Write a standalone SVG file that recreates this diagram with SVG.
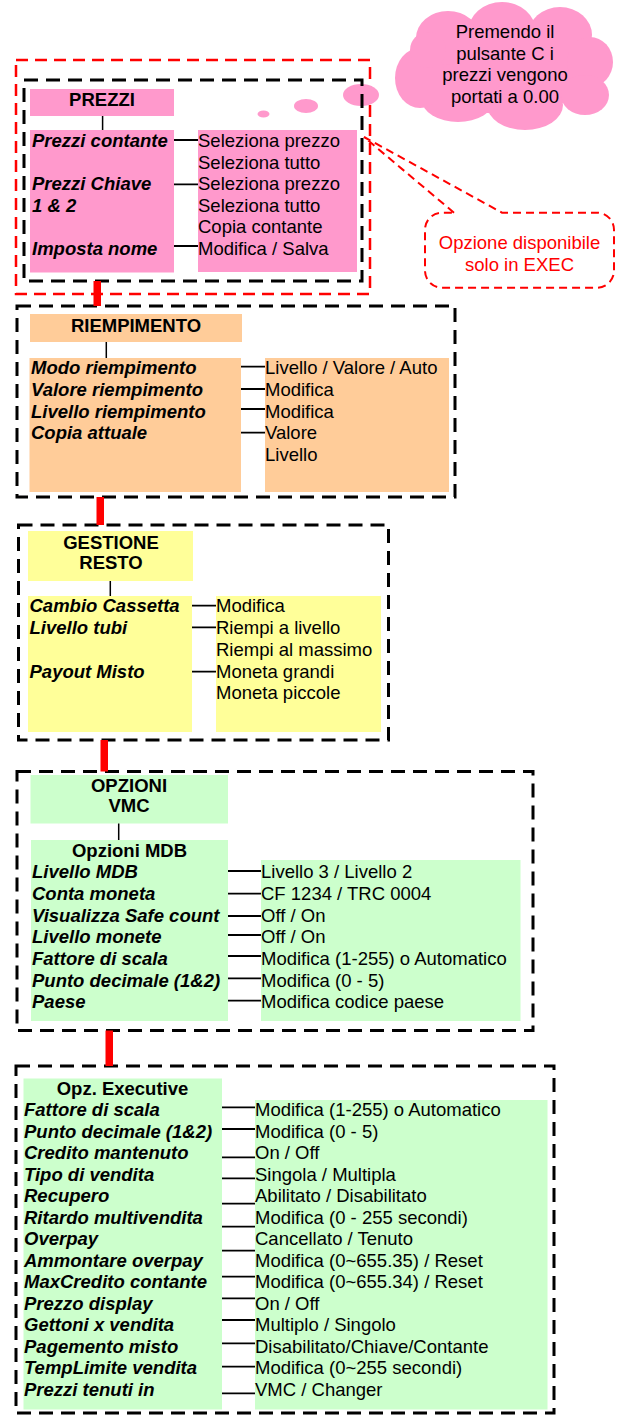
<svg xmlns="http://www.w3.org/2000/svg" width="618" height="1416" viewBox="0 0 618 1416">
<style>
text{font-family:"Liberation Sans",Arial,sans-serif;font-size:18.5px;fill:#000}
.h{font-weight:bold;text-anchor:middle}
.l{font-weight:bold;font-style:italic}
.red{fill:#FF0000;text-anchor:middle}
.c{text-anchor:middle}
.frame{fill:none;stroke:#000;stroke-width:3;stroke-dasharray:14 8}
.pk{fill:#FF99CC}
.or{fill:#FFCC99}
.ye{fill:#FFFF99}
.gr{fill:#CCFFCC}
.ln{stroke:#000;stroke-width:1.8;fill:none}
.vl{stroke:#000;stroke-width:1.5;fill:none}
.bar{fill:#FF0000}
</style>

<g id="exec-frame">
<rect x="16" y="60" width="354" height="234" fill="none" stroke="#FF0000" stroke-width="2.5" stroke-dasharray="12 7"/>
</g>

<g id="cloud">
<g class="pk">
<ellipse cx="505" cy="66" rx="90" ry="48"/>
<ellipse cx="448" cy="38" rx="32" ry="27"/>
<ellipse cx="502" cy="32" rx="34" ry="30"/>
<ellipse cx="560" cy="35" rx="32" ry="28"/>
<ellipse cx="590" cy="62" rx="23" ry="25"/>
<ellipse cx="585" cy="95" rx="24" ry="20"/>
<ellipse cx="525" cy="105" rx="38" ry="25"/>
<ellipse cx="458" cy="100" rx="36" ry="22"/>
<ellipse cx="420" cy="78" rx="25" ry="30"/>
<ellipse cx="428" cy="50" rx="18" ry="18"/>
<ellipse cx="361" cy="95" rx="18" ry="11"/>
<ellipse cx="306" cy="106" rx="12" ry="7"/>
<ellipse cx="263.5" cy="114" rx="6" ry="3.5"/>
</g>
<text class="c" x="505" y="38.3">Premendo il</text>
<text class="c" x="505" y="60">pulsante C i</text>
<text class="c" x="505" y="81.3">prezzi vengono</text>
<text class="c" x="505" y="102.7">portati a 0.00</text>
</g>

<g id="callout">
<path d="M454,212.7 L364,137 L502,212.7 H597 A17,17 0 0 1 614,229.7 V270.7 A17,17 0 0 1 597,287.7 H442 A17,17 0 0 1 425,270.7 V229.7 A17,17 0 0 1 442,212.7 Z" fill="none" stroke="#FF0000" stroke-width="2" stroke-dasharray="8 5"/>
<text class="red" x="519.5" y="249.3">Opzione disponibile</text>
<text class="red" x="519.5" y="270.5">solo in EXEC</text>
</g>

<g id="prezzi">
<rect class="frame" x="24" y="80" width="338" height="201"/>
<rect class="pk" x="30" y="89" width="144" height="27"/>
<text class="h" x="102" y="105.7">PREZZI</text>
<rect class="pk" x="30" y="130" width="144" height="142.5"/>
<rect class="pk" x="198" y="130" width="159" height="142"/>
<text class="l" x="32" y="147">Prezzi contante</text>
<text class="l" x="32" y="190">Prezzi Chiave</text>
<text class="l" x="32" y="211.7">1 &amp; 2</text>
<text class="l" x="32" y="255">Imposta nome</text>
<text x="198" y="147">Seleziona prezzo</text>
<text x="198" y="168.7">Seleziona tutto</text>
<text x="198" y="190.3">Seleziona prezzo</text>
<text x="198" y="211.7">Seleziona tutto</text>
<text x="198" y="233.3">Copia contante</text>
<text x="198" y="254.7">Modifica / Salva</text>
</g>

<g id="riempimento">
<rect class="frame" x="17" y="306" width="438" height="191"/>
<rect class="or" x="30" y="314" width="212" height="28"/>
<text class="h" x="136" y="331.7">RIEMPIMENTO</text>
<rect class="or" x="29.5" y="358" width="211.5" height="134"/>
<rect class="or" x="265" y="358" width="184" height="134"/>
<text class="l" x="31" y="374.3">Modo riempimento</text>
<text class="l" x="31" y="396">Valore riempimento</text>
<text class="l" x="31" y="417.7">Livello riempimento</text>
<text class="l" x="31" y="439.3">Copia attuale</text>
<text x="265" y="374.3">Livello / Valore / Auto</text>
<text x="265" y="396">Modifica</text>
<text x="265" y="417.7">Modifica</text>
<text x="265" y="439.3">Valore</text>
<text x="265" y="461">Livello</text>
</g>

<g id="gestione-resto">
<rect class="frame" x="18.5" y="525" width="370" height="215"/>
<rect class="ye" x="28" y="531" width="165" height="50"/>
<text class="h" x="111" y="549.3">GESTIONE</text>
<text class="h" x="111" y="569.3">RESTO</text>
<rect class="ye" x="28" y="596" width="164" height="136"/>
<rect class="ye" x="216" y="596" width="165" height="136"/>
<text class="l" x="29.5" y="612.3">Cambio Cassetta</text>
<text class="l" x="29.5" y="634">Livello tubi</text>
<text class="l" x="29.5" y="678.3">Payout Misto</text>
<text x="216" y="612.3">Modifica</text>
<text x="216" y="634">Riempi a livello</text>
<text x="216" y="655.7">Riempi al massimo</text>
<text x="216" y="677.7">Moneta grandi</text>
<text x="216" y="699.3">Moneta piccole</text>
</g>

<g id="opzioni-vmc">
<rect class="frame" x="17" y="771.5" width="516" height="259"/>
<rect class="gr" x="30.5" y="775" width="197.5" height="48.5"/>
<text class="h" x="129" y="791.7">OPZIONI</text>
<text class="h" x="129" y="812.3">VMC</text>
<rect class="gr" x="31" y="840" width="197" height="181"/>
<rect class="gr" x="261" y="860" width="259.5" height="161"/>
<text class="h" x="129.5" y="857.3">Opzioni MDB</text>
<text class="l" x="32" y="878.3">Livello MDB</text>
<text class="l" x="32" y="900">Conta moneta</text>
<text class="l" x="32" y="921.7">Visualizza Safe count</text>
<text class="l" x="32" y="943.3">Livello monete</text>
<text class="l" x="32" y="965">Fattore di scala</text>
<text class="l" x="32" y="986.7">Punto decimale (1&amp;2)</text>
<text class="l" x="32" y="1008.3">Paese</text>
<text x="261" y="878.3">Livello 3 / Livello 2</text>
<text x="261" y="900">CF 1234 / TRC 0004</text>
<text x="261" y="921.7">Off / On</text>
<text x="261" y="943.3">Off / On</text>
<text x="261" y="965">Modifica (1-255) o Automatico</text>
<text x="261" y="986.7">Modifica (0 - 5)</text>
<text x="261" y="1008.3">Modifica codice paese</text>
</g>

<g id="opz-executive">
<rect class="frame" x="16" y="1066" width="538" height="347"/>
<rect class="gr" x="23.5" y="1078.5" width="198.5" height="331"/>
<rect class="gr" x="255" y="1100" width="292.5" height="309.5"/>
<text class="h" x="122.5" y="1095">Opz. Executive</text>
<text class="l" x="24" y="1116">Fattore di scala</text>
<text class="l" x="24" y="1137.5">Punto decimale (1&amp;2)</text>
<text class="l" x="24" y="1159">Credito mantenuto</text>
<text class="l" x="24" y="1180.5">Tipo di vendita</text>
<text class="l" x="24" y="1202">Recupero</text>
<text class="l" x="24" y="1223.5">Ritardo multivendita</text>
<text class="l" x="24" y="1245">Overpay</text>
<text class="l" x="24" y="1266.5">Ammontare overpay</text>
<text class="l" x="24" y="1288">MaxCredito contante</text>
<text class="l" x="24" y="1309.5">Prezzo display</text>
<text class="l" x="24" y="1331">Gettoni x vendita</text>
<text class="l" x="24" y="1352.5">Pagemento misto</text>
<text class="l" x="24" y="1374">TempLimite vendita</text>
<text class="l" x="24" y="1395.5">Prezzi tenuti in</text>
<text x="255" y="1116">Modifica (1-255) o Automatico</text>
<text x="255" y="1137.5">Modifica (0 - 5)</text>
<text x="255" y="1159">On / Off</text>
<text x="255" y="1180.5">Singola / Multipla</text>
<text x="255" y="1202">Abilitato / Disabilitato</text>
<text x="255" y="1223.5">Modifica (0 - 255 secondi)</text>
<text x="255" y="1245">Cancellato / Tenuto</text>
<text x="255" y="1266.5">Modifica (0~655.35) / Reset</text>
<text x="255" y="1288">Modifica (0~655.34) / Reset</text>
<text x="255" y="1309.5">On / Off</text>
<text x="255" y="1331">Multiplo / Singolo</text>
<text x="255" y="1352.5">Disabilitato/Chiave/Contante</text>
<text x="255" y="1374">Modifica (0~255 secondi)</text>
<text x="255" y="1395.5">VMC / Changer</text>
</g>

<g id="connectors">
<rect class="bar" x="93.5" y="281" width="7.5" height="25"/>
<rect class="bar" x="96.5" y="497" width="7.5" height="28"/>
<rect class="bar" x="100.5" y="740" width="7.5" height="31.5"/>
<rect class="bar" x="105.5" y="1030.5" width="7.5" height="35.5"/>
<path class="vl" d="M102.6,116V130 M106.3,342V358 M110.3,581V596 M118.7,823.5V840"/>
<path class="ln" d="M174,140H198 M174,184.3H198 M174,246H198"/>
<path class="ln" d="M241,366.7H265 M241,389H265 M241,409H265 M241,432.7H265"/>
<path class="ln" d="M192,605.7H216 M192,627.3H216 M192,671.7H216"/>
<path class="ln" d="M228,871H261 M228,893.7H261 M228,916H261 M228,935H261 M228,956H261 M228,978.3H261 M228,1000.7H261"/>
<path class="ln" d="M222,1107.3H255 M222,1129H255 M222,1157.3H255 M222,1178.3H255 M222,1203.7H255 M222,1226.7H255 M222,1250.7H255 M222,1276.7H255 M222,1298.3H255 M222,1320H255 M222,1343.3H255 M222,1366.7H255 M222,1393.3H255"/>
</g>
</svg>
